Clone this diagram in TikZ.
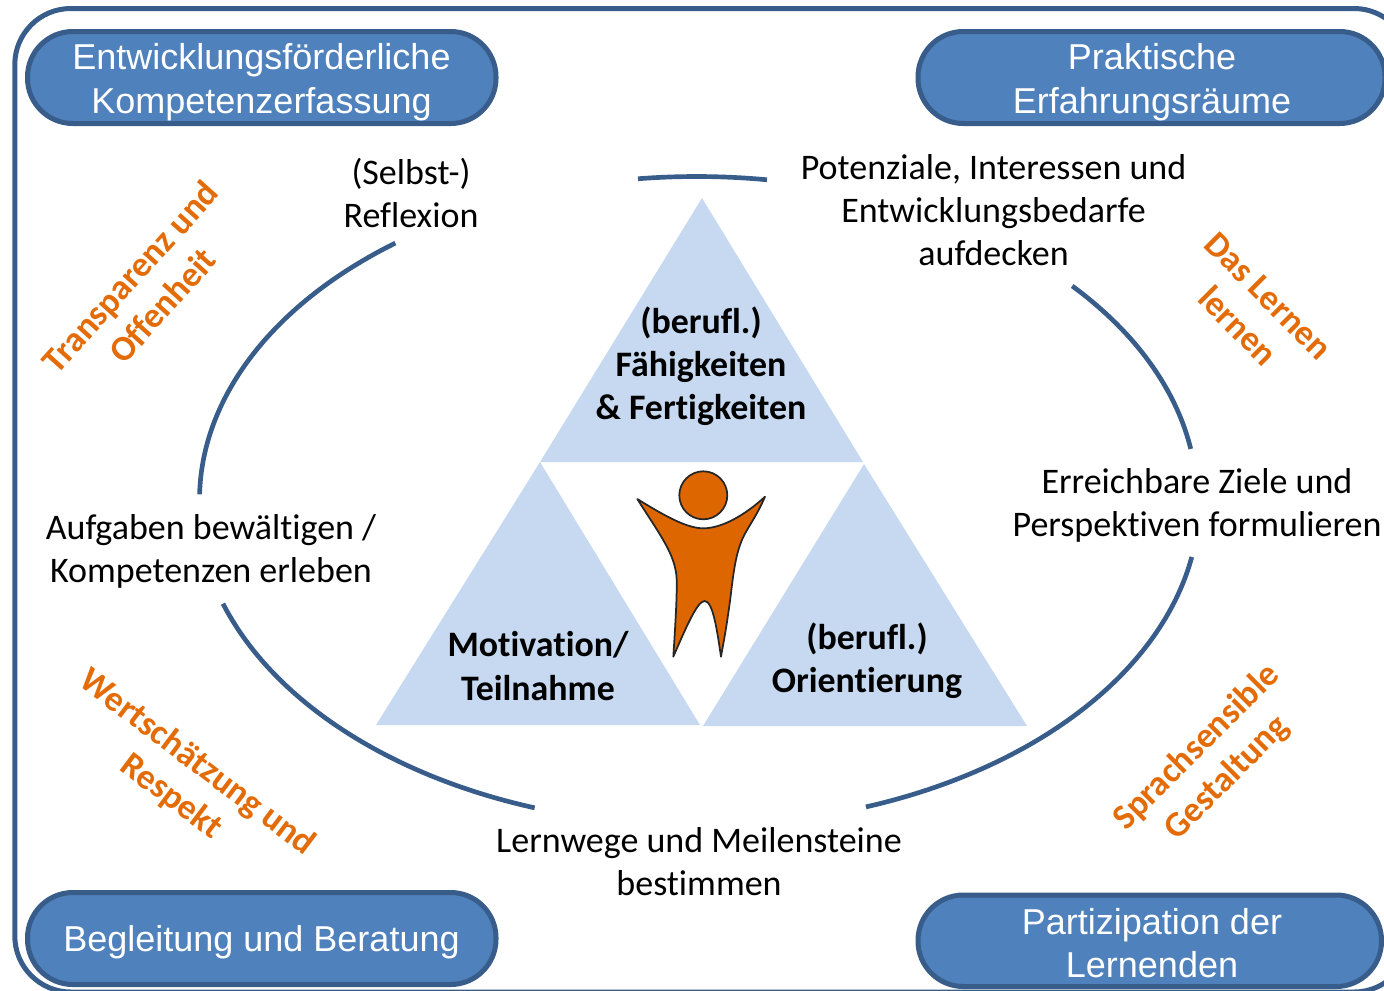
\documentclass[tikz,border=0pt]{standalone}
\usepackage{fontspec}
\setmainfont[Ligatures=NoCommon]{Carlito}
\newfontfamily\boxfont{Liberation Sans}
\definecolor{framec}{HTML}{385D8A}
\definecolor{boxc}{HTML}{4F81BD}
\definecolor{tric}{HTML}{C6D9F1}
\definecolor{orangec}{HTML}{E36C09}
\definecolor{figc}{HTML}{DD6600}
\begin{document}
\begin{tikzpicture}[x=0.75pt,y=-0.75pt,
  lbl/.style={font=\fontsize{27pt}{32.2pt}\selectfont,align=center,text=black,inner sep=0},
  tri/.style={font=\fontsize{26.9pt}{32.4pt}\selectfont\bfseries,align=center,text=black,inner sep=0},
  att/.style={font=\fontsize{26.6pt}{32.2pt}\selectfont\bfseries,align=center,text=orangec,inner sep=0},
  boxt/.style={font=\boxfont\fontsize{27pt}{32.6pt}\selectfont,align=center,text=white,inner sep=0},
  bx/.style={draw=framec,fill=boxc,line width=3.75pt,rounded corners=34pt},
  arcl/.style={draw=framec,line width=3.5pt,smooth,samples=40,variable=\t},
  trif/.style={fill=tric,draw=none}]
\path[use as bounding box] (0,0) rectangle (1384,990);
\clip (0,0) rectangle (1384,990);
% frame
\draw[framec,line width=3.75pt,rounded corners=42pt] (14.8,8.5) rectangle (1410,992);
% cycle arcs
\draw[arcl] plot[domain=96.76:81.85] ({696.5+497*cos(\t)},{500-323.5*sin(\t)});
\draw[arcl] plot[domain=127.3:179] ({696.5+497*cos(\t)},{500-323*sin(\t)});
\draw[arcl] plot[domain=198.6:251.3] ({694+497*cos(\t)},{500-325*sin(\t)});
\draw[arcl] plot[domain=289.2:349.9] ({702.5+497*cos(\t)},{500-325*sin(\t)});
\draw[arcl] plot[domain=9.1:41.5] ({700+497*cos(\t)},{500-323*sin(\t)});
% triangles
\fill[trif] (702,198) -- (540,462) -- (863,462) -- cycle;
\fill[trif] (540,462) -- (376,725) -- (700,725) -- cycle;
\fill[trif] (864,464) -- (703,726) -- (1027,726) -- cycle;
% figure
\draw[draw=black!85,fill=figc,line width=1.3pt] (703.3,495.3) circle[radius=24];
\draw[draw=black!85,fill=figc,line width=1.3pt,line join=round]
  (637.3,499) .. controls (668,518) and (688,528.3) .. (703.3,528.3)
  .. controls (722,528.3) and (745,515) .. (765,496.7)
  .. controls (755,520) and (745,530) .. (740,545)
  .. controls (733,565) and (732,590) .. (728,615)
  .. controls (726,630) and (723,645) .. (721,656.7)
  .. controls (717,630) and (713,601) .. (704.5,601)
  .. controls (697,601) and (685,630) .. (673.3,656.7)
  .. controls (675,630) and (677,600) .. (676.7,580)
  .. controls (676,555) and (660,535) .. cycle;
% rounded boxes
\draw[bx] (27.5,31.5) rectangle (496,123.5);
\draw[bx] (918,31.5) rectangle (1385,123.5);
\draw[bx] (27.5,892.5) rectangle (496,984.5);
\draw[bx] (918,895) rectangle (1381.5,986.5);
\node[boxt] (b1) at (261.5,82) {Entwicklungsförderliche\\Kompetenzerfassung};
\node[boxt] (b2) at (1152,82) {Praktische\\Erfahrungsräume};
\node[boxt] (b3) at (261.5,942) {Begleitung und Beratung};
\node[boxt] (b4) at (1152,943) {Partizipation der\\Lernenden};
% labels on cycle
\node[lbl] (l1) at (411,193) {(Selbst-)\\Reflexion};
\node[lbl] (l2) at (993.5,210.5) {Potenziale, Interessen und\\Entwicklungsbedarfe\\aufdecken};
\node[lbl] (l3) at (1197,505.5) {Erreichbare Ziele und\\Perspektiven formulieren};
\node[lbl] (l4) at (699,862) {Lernwege und Meilensteine\\bestimmen};
\node[lbl] (l5) at (211,551.5) {Aufgaben bewältigen /\\Kompetenzen erleben};
% triangle labels
\node[tri] (t1) at (701,366.5) {(berufl.)\\Fähigkeiten\\\& Fertigkeiten};
\node[tri] (t2) at (538,666) {Motivation/\\Teilnahme};
\node[tri] (t3) at (867,660.5) {(berufl.)\\Orientierung};
% attitudes
\node[att,rotate=48] (a1) at (146,291) {Transparenz und\\Offenheit};
\node[att,rotate=-45] (a2) at (1253,311) {Das Lernen\\lernen};
\node[att,rotate=-37] (a3) at (184,780) {Wertschätzung und\\Respekt};
\node[att,rotate=45] (a4) at (1212,763) {Sprachsensible\\Gestaltung};
\end{tikzpicture}
\end{document}
